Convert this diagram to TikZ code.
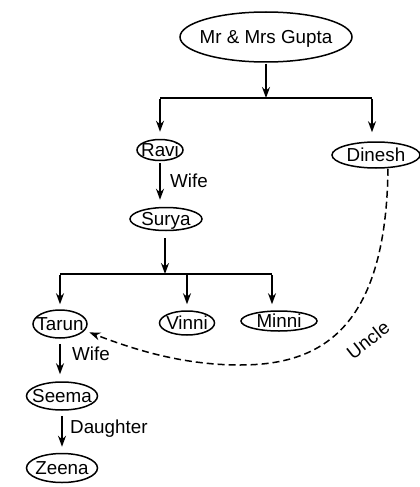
\documentclass[tikz,border=0pt]{standalone}
\usepackage{fontspec}
\setmainfont{Liberation Sans}
\usetikzlibrary{arrows.meta,shapes.geometric}
\newcommand\ctext[1]{\makebox[0pt]{\raisebox{-6.5pt}[0pt][0pt]{#1}}}
\tikzset{
  person/.style={ellipse,draw,line width=1.5pt,inner sep=0pt,font=\fontsize{18.8}{21}\selectfont},
  arr/.style={line width=1.5pt,-{Stealth[length=11pt,width=8pt]}},
  tline/.style={line width=1.5pt},
  rel/.style={font=\fontsize{18.8}{21}\selectfont,inner sep=0pt},
  dashrel/.style={line width=1.5pt,dash pattern=on 7pt off 4pt,-{Stealth[length=11pt,width=8pt]}},
}
\begin{document}
\begin{tikzpicture}[x=1pt,y=-1pt]
\useasboundingbox (0,0) rectangle (420,487);
% people
\node[person,minimum width=172pt,minimum height=50pt] (gupta) at (266,37) {\ctext{Mr \& Mrs Gupta}};
\node[person,minimum width=46pt,minimum height=21pt] (ravi) at (160,150) {\ctext{Ravi}};
\node[person,minimum width=88pt,minimum height=26pt] (dinesh) at (376,155) {\ctext{Dinesh}};
\node[person,minimum width=72pt,minimum height=23pt] (surya) at (166,219) {\ctext{Surya}};
\node[person,minimum width=54pt,minimum height=28pt] (tarun) at (60,324) {\ctext{Tarun}};
\node[person,minimum width=55pt,minimum height=24pt] (vinni) at (187,323) {\ctext{Vinni}};
\node[person,minimum width=76pt,minimum height=20pt] (minni) at (279,321) {\ctext{Minni}};
\node[person,minimum width=71pt,minimum height=28pt] (seema) at (62,396) {\ctext{Seema}};
\node[person,minimum width=71pt,minimum height=29pt] (zeena) at (62,468) {\ctext{Zeena}};
% junctions
\coordinate (j1) at (266,98);
\coordinate (lj) at (160,98);
\coordinate (rj) at (372,98);
\coordinate (j2) at (165,274);
\coordinate (mj) at (272,274);
% first generation
\draw[arr,shorten <=1pt] (gupta.south) -- (j1);
\draw[tline] (lj) -- (rj);
\draw[arr,shorten >=7pt] ([yshift=-0.75pt]lj) -- (lj |- ravi.north);
\draw[arr,shorten >=9pt] ([yshift=-0.75pt]rj) -- (rj |- dinesh.north);
% Ravi - Surya
\draw[arr,shorten <=2pt,shorten >=7pt] (ravi.south) -- (ravi.south |- surya.north);
\node[rel,anchor=base west] (w1) at (170,187) {Wife};
% children
\draw[arr,shorten <=7pt] (j2 |- surya.south) -- (j2);
\draw[tline] (tarun |- j2) -- (mj);
\draw[arr,shorten >=5pt] ([yshift=-0.75pt]tarun |- j2) -- (tarun.north);
\draw[arr,shorten >=6pt] (vinni |- j2) -- (vinni.north);
\draw[arr,shorten >=6pt] ([yshift=-0.75pt]mj) -- (mj |- minni.north);
% Tarun - Seema - Zeena
\draw[arr,shorten <=5pt,shorten >=7pt] (tarun.south) -- (tarun.south |- seema.north);
\node[rel,anchor=base west] (w2) at (72,360) {Wife};
\draw[arr,shorten <=5pt,shorten >=6pt] (seema.south) -- (seema.south |- zeena.north);
\node[rel,anchor=base west] (d1) at (70,433) {Daughter};
% uncle
\draw[dashrel,shorten >=5pt] ([xshift=12pt]dinesh.south) .. controls (386,330) and (320,365) .. (240,365) .. controls (180,365) and (130,348) .. (tarun.-15);
\node[rel,rotate=38] (uncle) at (368,340) {Uncle};
\end{tikzpicture}
\end{document}
